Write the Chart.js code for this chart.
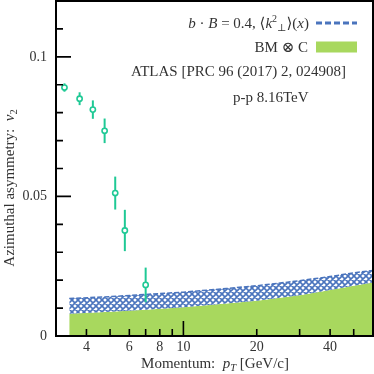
<!DOCTYPE html>
<html><head><meta charset="utf-8">
<script src="https://cdn.jsdelivr.net/npm/chart.js@4.4.1/dist/chart.umd.min.js"></script>
<style>html,body{margin:0;padding:0;background:#fff}#wrap{width:374px;height:374px}</style>
</head><body><div id="wrap"><canvas id="c" width="374" height="374"></canvas></div>
<script>
// ---- data ----
const ptX   = [3.25, 3.75, 4.25, 4.75, 5.25, 5.75, 7.0];
const ptV2  = [0.0890, 0.0850, 0.0811, 0.0735, 0.0512, 0.0378, 0.0183];
const ptErr = [0.0015, 0.0023, 0.0033, 0.0044, 0.0059, 0.0074, 0.0062];
const bandX   = [3.4, 5, 7, 10, 15, 20, 30, 40, 50, 60];
const bmcTop  = [0.0080, 0.0087, 0.0094, 0.0103, 0.0116, 0.0126, 0.0146, 0.0165, 0.0180, 0.0192];
const bbTop   = [0.0134, 0.0141, 0.0149, 0.0157, 0.0170, 0.0180, 0.0198, 0.0213, 0.0226, 0.0235];
const xTickVals   = [4, 5, 6, 7, 8, 9, 10, 20, 30, 40, 50];
const xTickLabels = ['4', '', '6', '', '8', '', '10', '20', '', '40', ''];
const xMajorVals  = [10];
const yTickVals   = [0, 0.05, 0.1];
const yTickLabels = ['0', '0.05', '0.1'];
const yMinorVals  = [0.01, 0.02, 0.03, 0.04, 0.06, 0.07, 0.08, 0.09, 0.11];

const SERIF = '"Liberation Serif", "DejaVu Serif", serif';
const GREEN = '#a8d85e';
const BLUE = '#4a74bd';
const TEAL = '#1fc995';
const TXT = '#333';

function hatch() {
  const s = 6, c = document.createElement('canvas');
  c.width = s; c.height = s;
  const g = c.getContext('2d');
  g.fillStyle = '#fff'; g.fillRect(0, 0, s, s);
  g.strokeStyle = BLUE; g.lineWidth = 1.6;
  g.beginPath();
  g.moveTo(-1, -1); g.lineTo(s + 1, s + 1);
  g.moveTo(s + 1, -1); g.lineTo(-1, s + 1);
  g.moveTo(-1, s - 1); g.lineTo(1, s + 1);
  g.moveTo(s - 1, -1); g.lineTo(s + 1, 1);
  g.moveTo(1, -1); g.lineTo(-1, 1);
  g.moveTo(s + 1, s - 1); g.lineTo(s - 1, s + 1);
  g.stroke();
  return g.createPattern(c, 'repeat');
}
const ctx0 = document.getElementById('c').getContext('2d');

function richText(ctx, segs, x, y, align) {
  // segs: [text, italic, size, dy]
  let w = 0;
  segs.forEach(s => { ctx.font = (s[1] ? 'italic ' : '') + s[2] + 'px ' + SERIF; w += ctx.measureText(s[0]).width; });
  let cx = align === 'right' ? x - w : align === 'center' ? x - w / 2 : x;
  ctx.textAlign = 'left'; ctx.textBaseline = 'alphabetic';
  segs.forEach(s => {
    ctx.font = (s[1] ? 'italic ' : '') + s[2] + 'px ' + SERIF;
    ctx.fillText(s[0], cx, y + (s[3] || 0));
    cx += ctx.measureText(s[0]).width;
  });
}

const decor = {
  id: 'decor',
  beforeDatasetDraw(chart, args) {
    if (args.index !== 2) return;
    const { ctx, scales: { x, y } } = chart;
    ctx.save();
    ctx.strokeStyle = TEAL; ctx.lineWidth = 2;
    ptX.forEach((v, i) => {
      const px = x.getPixelForValue(v);
      ctx.beginPath();
      ctx.moveTo(px, y.getPixelForValue(ptV2[i] - ptErr[i]));
      ctx.lineTo(px, y.getPixelForValue(ptV2[i] + ptErr[i]));
      ctx.stroke();
    });
    ctx.restore();
  },
  afterDraw(chart) {
    const { ctx, chartArea: a, scales: { x, y } } = chart;
    ctx.save();
    ctx.strokeStyle = '#000'; ctx.lineWidth = 2;
    ctx.strokeRect(a.left, a.top, a.right - a.left, a.bottom - a.top);
    ctx.lineWidth = 1.6;
    ctx.beginPath();
    xTickVals.forEach(v => {
      const px = x.getPixelForValue(v), L = xMajorVals.includes(v) ? 15 : 7;
      ctx.moveTo(px, a.bottom); ctx.lineTo(px, a.bottom - L);
    });
    yTickVals.forEach(v => { const py = y.getPixelForValue(v); ctx.moveTo(a.left, py); ctx.lineTo(a.left + 15, py); });
    yMinorVals.forEach(v => { const py = y.getPixelForValue(v); ctx.moveTo(a.left, py); ctx.lineTo(a.left + 7, py); });
    ctx.stroke();

    ctx.fillStyle = TXT;
    ctx.font = '14px ' + SERIF;
    ctx.textBaseline = 'middle';
    ctx.textAlign = 'right';
    yTickVals.forEach((v, i) => ctx.fillText(yTickLabels[i], a.left - 9, y.getPixelForValue(v)));
    ctx.textAlign = 'center';
    xTickVals.forEach((v, i) => { if (xTickLabels[i]) ctx.fillText(xTickLabels[i], x.getPixelForValue(v), a.bottom + 11); });

    // axis titles
    richText(ctx, [['Momentum:  ', false, 15], ['p', true, 15], ['T', true, 10.5, 3], [' [GeV/c]', false, 15]], 215, 368, 'center');
    ctx.save();
    ctx.translate(14, 188); ctx.rotate(-Math.PI / 2);
    richText(ctx, [['Azimuthal asymmetry:  ', false, 15], ['v', true, 15], ['2', false, 10.5, 3]], 0, 0, 'center');
    ctx.restore();

    // legend
    richText(ctx, [['b', true, 15], [' \u00b7 ', false, 15], ['B', true, 15], [' = 0.4, \u27e8', false, 15], ['k', true, 15],
      ['2', false, 10, -6], ['\u22a5', false, 10, 3], ['\u27e9(', false, 15], ['x', true, 15], [')', false, 15]], 309, 28, 'right');
    richText(ctx, [['BM \u2297 C', false, 15]], 308, 52, 'right');
    ctx.strokeStyle = BLUE; ctx.lineWidth = 3; ctx.setLineDash([6, 3]);
    ctx.beginPath(); ctx.moveTo(316, 23); ctx.lineTo(357, 23); ctx.stroke();
    ctx.setLineDash([]);
    ctx.fillStyle = GREEN; ctx.fillRect(316, 41.5, 41, 11);
    ctx.fillStyle = TXT;
    richText(ctx, [['ATLAS [PRC 96 (2017) 2, 024908]', false, 15]], 131, 76, 'left');
    richText(ctx, [['p-p 8.16TeV', false, 15]], 233, 102, 'left');
    ctx.restore();
  }
};

new Chart(ctx0, {
  type: 'line',
  data: {
    datasets: [
      { label: 'BM \u2297 C', data: bandX.map((v, i) => ({ x: v, y: bmcTop[i] })), borderWidth: 0, pointRadius: 0,
        backgroundColor: GREEN, fill: 'origin', order: 3 },
      { label: 'b B', data: bandX.map((v, i) => ({ x: v, y: bbTop[i] })), borderColor: BLUE, borderWidth: 1.5,
        borderDash: [5, 2], pointRadius: 0, backgroundColor: hatch(), fill: 0, order: 2 },
      { label: 'ATLAS', data: ptX.map((v, i) => ({ x: v, y: ptV2[i] })), showLine: false, pointRadius: 2.6,
        pointBorderWidth: 1.6, pointBorderColor: TEAL, pointBackgroundColor: '#fff', order: 1 }
    ]
  },
  options: {
    responsive: false, animation: false, devicePixelRatio: 1,
    layout: { autoPadding: false, padding: { left: 0, right: 1, top: 1, bottom: 0 } },
    plugins: { legend: { display: false }, tooltip: { enabled: false } },
    scales: {
      x: {
        type: 'logarithmic', min: 3, max: 60,
        grid: { display: false, drawTicks: false }, border: { display: false },
        afterBuildTicks: s => { s.ticks = xTickVals.map(v => ({ value: v })); },
        afterFit: s => { s.height = 38; },
        ticks: { display: false }
      },
      y: {
        min: 0, max: 0.12,
        grid: { display: false, drawTicks: false }, border: { display: false },
        afterBuildTicks: s => { s.ticks = yTickVals.map(v => ({ value: v })); },
        afterFit: s => { s.width = 56; },
        ticks: { display: false }
      }
    }
  },
  plugins: [decor]
});
</script></body></html>
